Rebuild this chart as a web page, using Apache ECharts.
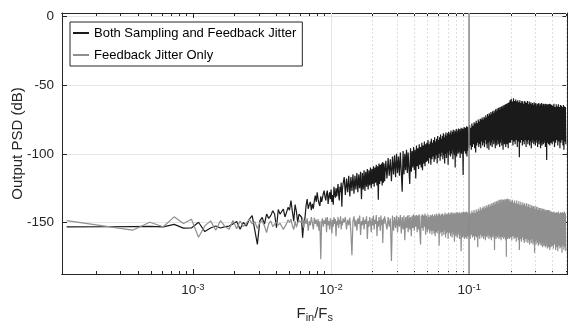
<!DOCTYPE html>
<html><head><meta charset="utf-8">
<script src="https://cdn.jsdelivr.net/npm/echarts@6/dist/echarts.min.js"></script>
<style>html,body{margin:0;padding:0;background:#fff}#c{width:570px;height:328px}</style>
</head><body><div id="c"></div>
<script>
// FFT length: frequency of bin k is k / FFT_N (normalised to Fs)
const FFT_N = 8192;
const bins = [
1,2,3,4,5,6,7,8,9,10,11,12,13,14,15,16,17,18,19,20,21,22,23,24,25,26,27,28,29,30,31,32,33,34,35,36,37,38,39,40,41,42,43,44,45,46,47,48,
50,51,52,53,54,55,56,57,58,59,60,61,62,63,64,65,66,67,68,69,70,71,72,73,74,75,76,77,78,79,80,81,82,83,84,85,86,87,88,89,90,91,92,93,94,95,96,97,98,99,100,
102,104,106,108,110,112,114,116,118,120,122,124,126,128,130,132,134,136,138,140,142,144,146,148,150,152,154,156,158,160,162,164,166,168,170,172,174,176,178,180,182,184,186,188,190,192,194,196,198,200,
204,208,212,216,220,224,228,232,236,240,244,248,252,256,260,264,268,272,276,280,284,288,292,296,300,304,308,312,316,320,324,328,332,336,340,344,348,352,356,360,364,368,372,376,380,384,388,392,396,400,
404,408,412,416,420,424,428,432,436,440,444,448,452,456,460,464,468,472,476,480,484,488,492,496,500,504,508,512,516,520,524,528,532,536,540,544,548,552,556,560,
564,568,572,576,580,584,588,592,596,600,604,608,612,616,620,624,628,632,636,640,644,648,652,656,660,664,668,672,676,680,684,688,692,696,700,704,708,712,716,720,
724,728,732,736,740,744,748,752,756,760,764,768,772,776,780,784,788,792,796,800,
808,816,824,832,840,848,856,864,872,880,888,896,904,912,920,928,936,944,952,960,968,976,984,992,1000,1008,1016,1024,1032,1040,1048,1056,1064,1072,1080,1088,1096,1104,1112,1120,
1128,1136,1144,1152,1160,1168,1176,1184,1192,1200,1208,1216,1224,1232,1240,1248,1256,1264,1272,1280,1288,1296,1304,1312,1320,1328,1336,1344,1352,1360,1368,1376,1384,1392,1400,1408,1416,1424,1432,1440,
1448,1456,1464,1472,1480,1488,1496,1504,1512,1520,1528,1536,1544,1552,1560,1568,1576,1584,1592,1600,
1616,1632,1648,1664,1680,1696,1712,1728,1744,1760,1776,1792,1808,1824,1840,1856,1872,1888,1904,1920,1936,1952,1968,1984,2000,2016,2032,2048,2064,2080,2096,2112,2128,2144,2160,2176,2192,2208,2224,2240,
2256,2272,2288,2304,2320,2336,2352,2368,2384,2400,2416,2432,2448,2464,2480,2496,2512,2528,2544,2560,2576,2592,2608,2624,2640,2656,2672,2688,2704,2720,2736,2752,2768,2784,2800,2816,2832,2848,2864,2880,
2896,2912,2928,2944,2960,2976,2992,3008,3024,3040,3056,3072,3088,3104,3120,3136,3152,3168,3184,3200,
3232,3264,3296,3328,3360,3392,3424,3456,3488,3520,3552,3584,3616,3648,3680,3712,3744,3776,3808,3840,3872,3904,3936,3968,4000,4032,4064,4096
];
const bothJitter = [
-153.2,-153.1,-153.0,-152.9,-153.2,-151.4,-154.1,-154.0,-149.8,-156.6,-154,-152.6,-154,-153,-152.6,-151,-149.3,-155,-150.0,-152.6,-147.6,-145,-155.5,-165.9,-148.8,-146.3,-151.2,-143.9,-147,-145,-141.5,-144,-153.7,-140.5,-143.9,-142,-140.2,-146,-142.6,-139,-141,-134,-142,-149,-137,-142,-150.2,-144,
-146,-161,-150,-147,-138,-132.9,-140,-137,-135,-141,-136.5,-140,-134,-130.5,-135,-128,-133,-136,-138,-131,-135,-132,-129,-126.8,-131,-134,-129,-126.8,-136.5,-131,-128,-133,-126,-135,-130,-137,-124,-129,-132,-125,-131,-127,-122,-130,-134,-124,-128,-121,-138.5,-126,-122,
-117,-130,-118,-128,-116,-131,-117,-127,-115,-129,-116,-126,-114,-128,-115,-125,-113,-133,-114,-126,-112,-127,-113,-124,-111,-126,-112,-123,-110,-125,-111,-122,-109,-124,-110,-121,-108,-123,-109,-133.5,-107,-122,-108,-120,-107,-123,-106,-121,-107,-120,
-105,-118,-103,-116,-104,-120,-102,-115,-101,-117,-100,-114,-102,-116,-99,-113,-127.6,-98,-115,-100,-112,-97,-114,-99,-111,-122,-96,-113,-98,-110,-95,-112,-97,-118,-94,-109,-96,-111,-93,-108,-95,-110,-92,-112,-94,-107,-91,-109,-93,-106,
-92,-105,-90,-107,-93,-103,-91,-108,-89,-104,-92,-102,-90,-106,-88,-104,-91,-101,-89,-107,-87,-103,-90,-100,-88,-105,-86,-102,-89,-99,-87,-104,-85,-101,-88,-107,-86,-100,-84.5,-103,
-87,-99,-85,-108,-84,-101,-86,-98,-84.5,-102,-83,-100,-86,-97,-84,-104,-82.5,-99,-85,-101,-83,-110,-84,-98,-82,-102,-85,-97,-83,-100,-81.5,-99,-84,-96,-82,-103,-83,-98,-81,-100,
-83,-97,-81.5,-101,-115.5,-82,-99,-80.5,-98,-83,-96,-81,-100,-82,-97,-80,-102,-82.5,-98,-80.5,
-80,-96,-79,-94,-81,-97,-78,-95,-79.5,-93,-77,-96,-78,-99,-76,-94,-77.5,-92,-75,-95,-76.5,-93,-74.5,-96,-75,-91,-73.5,-94,-75,-92,-73,-95,-74,-90,-72,-93,-73.5,-96,-71,-92,
-72.5,-97,-70.5,-91,-71.5,-94,-69.5,-92,-71,-95,-69,-90,-70.5,-93,-68.5,-91,-70,-96,-67.5,-92,-69,-94,-67,-90,-68.5,-93,-66.5,-91,-68,-95,-66,-92,-67.5,-89,-65.5,-94,-67,-91,-65,-97,
-66.5,-90,-64.5,-93,-66,-91,-64,-95,-65.5,-90,-63.5,-93,-65,-91,-63,-96,-64.5,-90,-62.5,-92,
-61,-92,-60,-90,-62,-94,-59.5,-91,-61.5,-93,-60.5,-90,-62,-95,-61,-91,-62.5,-102.5,-61,-92,-63,-90,-61.5,-94,-62,-91,-63.5,-93,-61.5,-90,-62.5,-95,-63,-91,-61.5,-93,-64,-90,-62,-94,
-63.5,-91,-62.5,-96,-64,-92,-63,-90,-64.5,-93,-62.5,-91,-64,-94,-63,-90,-65,-92,-63.5,-95,-64,-91,-63,-93,-65,-90,-63.5,-96,-64.5,-92,-63,-94,-65,-91,-64,-93,-63.5,-90,-65.5,-92,
-64,-95,-63.5,-91,-65,-104.5,-64,-92,-65.5,-90,-64,-93,-65,-91,-63.5,-94,-65.5,-90,-64,-92,
-64.5,-93,-65,-91,-63.5,-95,-66,-92,-64,-90,-65.5,-94,-64,-91,-66,-96,-64.5,-92,-65,-90,-66,-94,-64.5,-97,-65.5,-91,-66,-93
];
const feedbackOnly = [
-148.6,-153.0,-155.6,-149.8,-153.1,-145.9,-150.7,-147.6,-160.8,-152.5,-148.8,-155.6,-148.6,-153,-155,-148.6,-154.5,-148.9,-152.9,-150.5,-147.5,-151,-149.5,-154.4,-150,-148.8,-152.5,-157.3,-151,-148.8,-153,-154,-149.5,-152,-150.5,-149.2,-155,-155.5,-151,-148,-150,-147.5,-152.5,-155.2,-149,-153.6,-150,-148.5,
-150,-146.5,-154,-148,-151,-147,-156,-149,-152,-146,-150.5,-155,-146.5,-151,-148,-153,-147.5,-156,-149,-176.8,-150,-147,-153,-148.5,-151,-146.5,-157,-146,-152,-149,-155,-147,-150,-158,-148,-153,-146,-151,-147.5,-160,-149,-152,-146,-154,-148,-151,-145.5,-155,-149,-152,-147,
-150,-146,-155,-148,-152,-146.5,-157,-173.8,-149,-145.5,-153,-148,-156,-147,-151,-145,-159,-149,-152,-146,-155,-148,-151,-145.5,-162,-149,-153,-146,-150,-157,-147,-152,-145,-155,-148,-151,-144.5,-160,-149,-153,-146,-150,-156,-145,-152,-148,-165,-147,-151,-145.5,
-145,-155,-146,-153,-147,-178,-145,-156,-146,-154,-145,-157,-146,-153,-144.5,-158,-146,-155,-145,-163,-146,-154,-145,-157,-144.5,-155,-146,-160,-145,-154,-144,-156,-145,-153,-144.5,-157,-145,-155,-144,-158,-166,-145,-154,-144,-156,-145,-153,-143.5,-159,-145,
-145,-157,-144,-155,-146,-158,-144.5,-156,-145,-159,-144,-156,-145.5,-158,-144,-160,-145,-157,-143.5,-158,-145,-156,-144,-167,-143.5,-158,-145,-157,-144,-160,-143.5,-157,-145,-159,-144,-156,-143,-161,-144.5,-158,
-143.5,-157,-144,-162,-143,-158,-144.5,-157,-143,-160,-144,-158,-142.5,-161,-144,-157,-143,-159,-144,-164,-143,-158,-144,-160,-142.5,-158,-143.5,-161,-142.5,-157,-144,-159,-143,-162,-142.5,-158,-143.5,-160,-171,-143,
-159,-142.5,-161,-143.5,-158,-142,-160,-143,-162,-142.5,-159,-143,-161,-142,-158,-143,-162,-142.5,-160,-143,
-144,-160,-142,-162,-143.5,-159,-141.5,-161,-143,-160,-141,-163,-143,-160,-140.5,-161,-142,-168,-140,-160,-141.5,-162,-139,-159,-141,-161,-139.5,-160,-138.5,-162,-140,-160,-138,-163,-139.5,-160,-137.5,-161,-139,-159,
-137,-162,-138.5,-160,-136.5,-161,-138,-163,-136,-160,-137.5,-161,-135.5,-159,-137,-170,-135,-160,-136.5,-162,-134.5,-160,-136,-161,-134,-159,-136,-162,-133.5,-160,-135.5,-161,-133.5,-163,-135,-160,-133,-161,-135,-159,
-133.5,-162,-135,-160,-133,-161,-134.5,-163,-133,-175,-134.5,-160,-132.5,-162,-134,-161,-133,-160,-134.5,-162,
-133,-161,-135,-163,-133.5,-160,-135.5,-162,-134,-161,-136,-164,-134,-161,-136.5,-163,-134.5,-170,-137,-162,-135,-164,-137.5,-161,-135.5,-163,-137,-165,-136,-162,-138,-164,-136,-162,-138.5,-165,-136.5,-163,-139,-166,
-137,-163,-139.5,-165,-137.5,-162,-139,-166,-138,-164,-140,-172,-138,-164,-140.5,-166,-138.5,-163,-141,-165,-139,-167,-141,-164,-139.5,-166,-141.5,-165,-139.5,-167,-141.5,-164,-140,-168,-142,-165,-140,-167,-142,-166,
-140.5,-168,-142.5,-165,-141,-167,-143,-169,-141,-166,-143,-168,-141,-166,-143.5,-170,-141.5,-167,-143,-168,
-142,-167,-142.5,-169,-142,-166,-143,-170,-142.5,-168,-143,-171,-142,-167,-143.5,-169,-142.5,-168,-143,-172,-142.5,-167,-143,-170,-142,-168,-143.5,-171
];
const seriesNames = ['Both Sampling and Feedback Jitter', 'Feedback Jitter Only'];
const xMajorTicks = [1e-3, 1e-2, 1e-1];
const xMinorTicks = [2e-4,3e-4,4e-4,5e-4,6e-4,7e-4,8e-4,9e-4,2e-3,3e-3,4e-3,5e-3,6e-3,7e-3,8e-3,9e-3,2e-2,3e-2,4e-2,5e-2,6e-2,7e-2,8e-2,9e-2,2e-1,3e-1,4e-1,5e-1];
const yTicks = [-150, -100, -50, 0];
const markerFreq = [0.1];
const xRange = [1.13e-4, 0.514];
const yRange = [-187.5, 2.5];

const FONT = '"Liberation Sans", Arial, Helvetica, sans-serif';
const AX = '#262626';
const toPairs = vals => bins.map((k, i) => [k / FFT_N, vals[i]]);

function xAxisDef(pos, ticks, len, labels) {
  return {
    type: 'log', logBase: 10, position: pos, min: xRange[0], max: xRange[1],
    axisLine: { show: true, onZero: false, lineStyle: { color: AX, width: 1 } },
    axisTick: { show: true, inside: true, length: len, customValues: ticks, lineStyle: { color: AX, width: 1 } },
    axisLabel: labels ? {
      show: true, customValues: xMajorTicks, margin: 8, fontFamily: FONT, color: AX,
      formatter: v => '{b|10}{e|' + Math.round(Math.log10(v)) + '}',
      rich: { b: { fontSize: 13.5, fontFamily: FONT, color: AX }, e: { fontSize: 9.5, fontFamily: FONT, color: AX, padding: [0, 0, 7, 0] } }
    } : { show: false },
    splitLine: { show: false }, minorTick: { show: false }
  };
}
function yAxisDef(pos, labels) {
  return {
    type: 'value', position: pos, min: yRange[0], max: yRange[1],
    axisLine: { show: true, onZero: false, lineStyle: { color: AX, width: 1 } },
    axisTick: { show: true, inside: true, length: 5, customValues: yTicks, lineStyle: { color: AX } },
    axisLabel: labels ? { show: true, customValues: yTicks, margin: 8, fontSize: 13.5, fontFamily: FONT, color: AX } : { show: false },
    splitLine: { show: labels, lineStyle: { color: '#e6e6e6', width: 1 } }
  };
}

const chart = echarts.init(document.getElementById('c'), null, { renderer: 'canvas' });
const xAxes = [xAxisDef('bottom', xMajorTicks, 5, true), xAxisDef('bottom', xMinorTicks, 3, false),
               xAxisDef('top', xMajorTicks, 5, false), xAxisDef('top', xMinorTicks, 3, false)];
xAxes[0].name = '{n|F}{s|in}{n|/F}{s|s}';
xAxes[0].nameLocation = 'middle';
xAxes[0].nameGap = 30;
xAxes[0].nameTextStyle = { rich: { n: { fontSize: 15, fontFamily: FONT, color: AX }, s: { fontSize: 11, fontFamily: FONT, color: AX, padding: [8, 0, 0, 0] } } };
const yAxes = [yAxisDef('left', true), yAxisDef('right', false)];
yAxes[0].name = 'Output PSD (dB)';
yAxes[0].nameLocation = 'middle';
yAxes[0].nameGap = 37;
yAxes[0].nameMoveOverlap = false;
yAxes[0].nameTextStyle = { fontSize: 15, fontFamily: FONT, color: AX };

chart.setOption({
  animation: false,
  grid: { left: 62, top: 13, right: 2.5, bottom: 54, containLabel: false, outerBoundsMode: 'none' },
  xAxis: xAxes,
  yAxis: yAxes,
  legend: {
    data: seriesNames, orient: 'vertical', left: 70, top: 22,
    icon: 'rect', itemWidth: 16, itemHeight: 2, itemGap: 8,
    padding: [4, 6, 4, 3], borderColor: AX, borderWidth: 1, backgroundColor: '#fff',
    textStyle: { fontSize: 13, fontFamily: FONT, color: '#000', lineHeight: 14 },
    selectedMode: false, z: 30
  },
  series: [
    { type: 'line', name: '_minorGrid', data: [], z: 1, silent: true,
      markLine: { z: 1, silent: true, symbol: ['none', 'none'], label: { show: false }, animation: false,
        lineStyle: { color: '#dedede', type: [2, 2], width: 1 },
        data: xMinorTicks.map(v => ({ xAxis: v })) } },
    { type: 'line', name: '_majorGrid', data: [], z: 1, silent: true,
      markLine: { z: 1, silent: true, symbol: ['none', 'none'], label: { show: false }, animation: false,
        lineStyle: { color: '#e3e3e3', type: 'solid', width: 1 },
        data: xMajorTicks.map(v => ({ xAxis: v })) } },
    { type: 'line', name: seriesNames[0], data: toPairs(bothJitter), z: 10,
      showSymbol: false, symbol: 'none', color: '#1a1a1a', lineStyle: { color: '#1a1a1a', width: 1.2 } },
    { type: 'line', name: seriesNames[1], data: toPairs(feedbackOnly), z: 11,
      showSymbol: false, symbol: 'none', color: '#8f8f8f', lineStyle: { color: '#8f8f8f', width: 1.2 } },
    { type: 'line', name: '_marker', data: [], z: 20, silent: true,
      markLine: { z: 20, silent: true, symbol: ['none', 'none'], label: { show: false }, animation: false,
        lineStyle: { color: '#8a8a8a', type: 'solid', width: 1.5 },
        data: markerFreq.map(v => ({ xAxis: v })) } }
  ]
});
</script>
</body></html>
